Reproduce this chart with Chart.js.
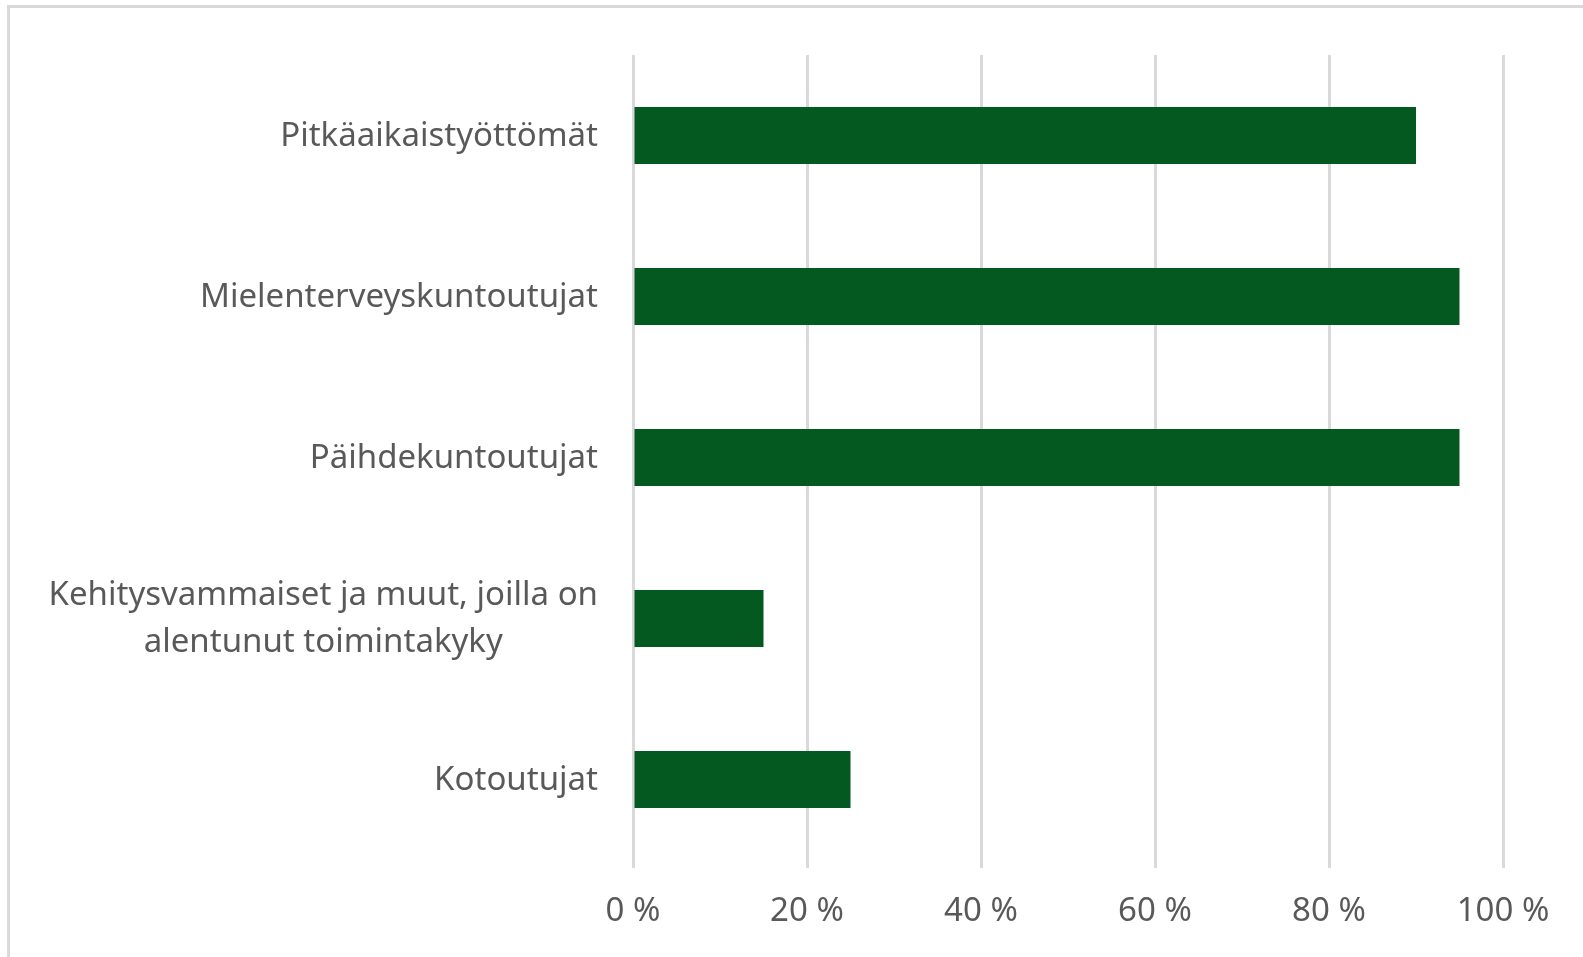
<!DOCTYPE html>
<html>
<head>
<meta charset="utf-8">
<script src="https://cdn.jsdelivr.net/npm/chart.js@4"></script>
<style>
  html, body { margin: 0; padding: 0; background: #fff; overflow: hidden; }
  #wrap { position: relative; width: 1583px; height: 957px; }
  #frame { position: absolute; left: 7px; top: 5px; width: 1620px; height: 1000px;
           border: 3px solid #d9d9d9; pointer-events: none; }
  canvas { position: absolute; left: 0; top: 0; }
</style>
</head>
<body>
<div id="wrap">
  <canvas id="chart" width="1583" height="957"></canvas>
  <div id="frame"></div>
</div>
<script>
// Categories (top to bottom) and share of respondents (%)
const categories = [
    ['Pitkäaikaistyöttömät'],
    ['Mielenterveyskuntoutujat'],
    ['Päihdekuntoutujat'],
    ['Kehitysvammaiset ja muut, joilla on', 'alentunut toimintakyky'],
    ['Kotoutujat']
];
const values = [90, 95, 95, 15, 25];
const xTicks = [0, 20, 40, 60, 80, 100];

const textColor = '#595959';
const fontFamily = '"Noto Sans", "DejaVu Sans", sans-serif';

// Excel centres wrapped category lines on each other, so draw them ourselves
const categoryLabels = {
    id: 'categoryLabels',
    afterDraw(chart) {
        const ctx = chart.ctx;
        const yScale = chart.scales.y;
        const right = chart.chartArea.left - 35;
        const lineH = 47;
        ctx.save();
        ctx.font = '33px ' + fontFamily;
        ctx.fillStyle = textColor;
        ctx.textAlign = 'center';
        ctx.textBaseline = 'middle';
        categories.forEach((lines, i) => {
            const y = yScale.getPixelForTick(i) + 1;
            const w = Math.max(...lines.map(l => ctx.measureText(l).width));
            const cx = right - w / 2;
            const y0 = y - (lines.length - 1) * lineH / 2;
            lines.forEach((l, j) => ctx.fillText(l, cx, y0 + j * lineH));
        });
        ctx.restore();
    }
};

new Chart(document.getElementById('chart').getContext('2d'), {
    type: 'bar',
    data: {
        labels: categories.map(c => c.join(' ')),
        datasets: [{
            data: values,
            backgroundColor: '#03591f',
            borderWidth: 0,
            categoryPercentage: 1,
            barPercentage: 0.355
        }]
    },
    options: {
        indexAxis: 'y',
        responsive: false,
        animation: false,
        layout: { padding: { left: 0, top: 55, right: 80, bottom: 0 } },
        plugins: { legend: { display: false }, tooltip: { enabled: false } },
        scales: {
            x: {
                min: 0,
                max: 100,
                afterBuildTicks: s => { s.ticks = xTicks.map(v => ({ value: v })); },
                afterFit: s => { s.height = 97; },
                grid: { color: '#d9d9d9', lineWidth: 3, drawTicks: true, tickLength: 8 },
                border: { display: false },
                ticks: {
                    color: textColor,
                    padding: 24,
                    font: { family: fontFamily, size: 33 },
                    callback: v => v + ' %'
                }
            },
            y: {
                afterFit: s => { s.width = 633; },
                grid: { display: false },
                border: { display: false },
                ticks: { display: false }
            }
        }
    },
    plugins: [categoryLabels]
});
</script>
</body>
</html>
